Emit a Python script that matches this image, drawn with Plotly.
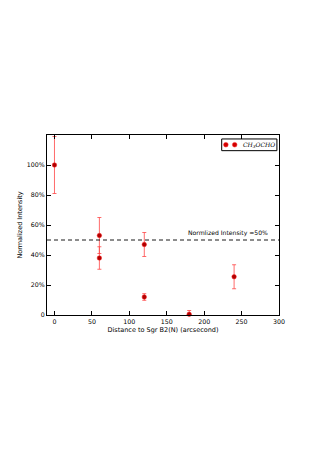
import plotly.graph_objects as go

distance = [0, 60, 60, 120, 120, 180, 240]
intensity = [1.00, 0.53, 0.38, 0.47, 0.12, 0.005, 0.255]
error = [0.19, 0.12, 0.075, 0.08, 0.022, 0.025, 0.08]
x_ticks = [0, 50, 100, 150, 200, 250, 300]
y_ticks = [0, 0.2, 0.4, 0.6, 0.8, 1.0]
y_tick_labels = ["0", "20%", "40%", "60%", "80%", "100%"]
threshold = 0.5

fig = go.Figure()
fig.add_trace(go.Scatter(
    x=distance, y=intensity, mode="markers",
    marker=dict(color="#b00000", size=4.5, line=dict(color="#ff2020", width=0.5)),
    error_y=dict(type="data", array=error, visible=True, color="rgba(255,70,70,0.8)",
                 thickness=1, width=2),
    showlegend=False, cliponaxis=False,
))
fig.add_shape(type="line", xref="paper", x0=0, x1=1, yref="y", y0=threshold, y1=threshold,
              line=dict(color="black", width=0.9, dash="4px,3px"))
fig.add_annotation(x=288, y=threshold, xref="x", yref="y", text="Normlized Intensity =50%",
                   showarrow=False, xanchor="right", yanchor="bottom", yshift=1,
                   font=dict(size=6.1, color="black"))

# legend box
fig.add_shape(type="rect", xref="paper", yref="paper", x0=0.753, x1=0.991, y0=0.913, y1=0.978,
              line=dict(color="black", width=1), fillcolor="white")
for cx in [0.771, 0.809]:
    fig.add_shape(type="circle", xref="paper", yref="paper",
                  x0=cx - 0.01, x1=cx + 0.01, y0=0.946 - 0.013, y1=0.946 + 0.013,
                  fillcolor="#d00000", line=dict(color="#ff2020", width=0.5))
fig.add_annotation(x=0.838, y=0.946, xref="paper", yref="paper",
                   text="<i>CH<sub>3</sub>OCHO</i>", showarrow=False,
                   xanchor="left", yanchor="middle",
                   font=dict(size=6, color="black", family="DejaVu Serif"))

axis_common = dict(showline=True, linecolor="black", linewidth=1, mirror="allticks",
                   ticks="inside", ticklen=4, tickcolor="black", showgrid=False, zeroline=False,
                   tickfont=dict(size=6.3, color="black"), automargin=False)
fig.update_xaxes(range=[-10, 300], tickvals=x_ticks,
                 title=dict(text="Distance to Sgr B2(N) (arcsecond)", font=dict(size=6.5), standoff=3),
                 **axis_common)
fig.update_yaxes(range=[0, 1.2], tickvals=y_ticks, ticktext=y_tick_labels,
                 title=dict(text="Normalized Intensity", font=dict(size=6.5), standoff=3),
                 **axis_common)
fig.update_layout(width=319, height=451, margin=dict(l=39, r=48, t=127, b=144),
                  plot_bgcolor="white", paper_bgcolor="white",
                  font=dict(family="DejaVu Sans", color="black"))
fig.write_html("out.html")
